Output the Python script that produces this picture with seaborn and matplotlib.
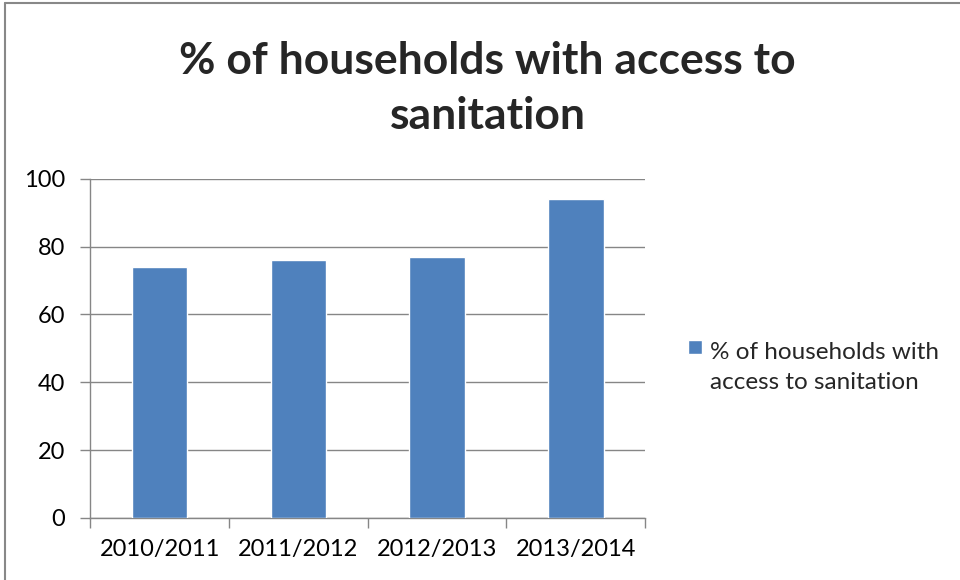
import matplotlib
matplotlib.use("Agg")
import matplotlib.pyplot as plt
import seaborn as sns
import pandas as pd
from matplotlib.patches import Patch, Rectangle
from matplotlib.lines import Line2D
from matplotlib.legend_handler import HandlerPatch

# data
years = ["2010/2011", "2011/2012", "2012/2013", "2013/2014"]
pct_sanitation = [74, 76, 77, 94]
series_name = "% of households with access to sanitation"
y_ticks = [0, 20, 40, 60, 80, 100]

BAR = "#4F81BD"
GREY = "#868686"

sns.set_theme(style="white")
plt.rcParams["font.family"] = ["Lato", "DejaVu Sans"]

df = pd.DataFrame({"year": years, "pct": pct_sanitation})

fig = plt.figure(figsize=(9.6, 5.8), dpi=100)
ax = fig.add_axes([0.094, 0.107, 0.578, 0.585])

sns.barplot(data=df, x="year", y="pct", color=BAR, width=0.4,
            saturation=1, ax=ax, zorder=3)

ax.set_xlim(-0.5, len(years) - 0.5)
ax.set_ylim(0, 100)
ax.set_yticks(y_ticks)
ax.yaxis.grid(True, color=GREY, lw=1)
ax.set_axisbelow(True)
ax.set_xlabel("")
ax.set_ylabel("")

for side in ["top", "right"]:
    ax.spines[side].set_visible(False)
for side in ["left", "bottom"]:
    ax.spines[side].set_color(GREY)
    ax.spines[side].set_linewidth(1)

# excel style ticks between categories
ax.set_xticks([i - 0.5 for i in range(len(years) + 1)], minor=True)
ax.tick_params(axis="x", which="minor", bottom=True, length=7, width=1, color=GREY)
ax.tick_params(axis="x", which="major", length=0, pad=15, labelsize=17, labelcolor="black")
ax.tick_params(axis="y", left=True, length=7, width=1, color=GREY, pad=11,
               labelsize=17, labelcolor="black")


# legend marker sits next to the first line of the wrapped label
def top_square(legend, orig_handle, xdescent, ydescent, width, height, fontsize):
    return Rectangle((-xdescent, -ydescent + 0.85 * fontsize), width, height)


legend_label = "% of households with\naccess to sanitation"
fig.legend(handles=[Patch(facecolor=BAR, label=legend_label)],
           handler_map={Patch: HandlerPatch(patch_func=top_square)},
           loc="center left", bbox_to_anchor=(0.717, 0.366), frameon=False,
           fontsize=17.5, handlelength=0.55, handleheight=0.55, handletextpad=0.35,
           borderpad=0, borderaxespad=0, labelspacing=0)
for t in fig.legends[0].get_texts():
    t.set_linespacing(1.5)

fig.text(0.508, 0.848, "% of households with access to\nsanitation", ha="center",
         va="center", fontsize=32, fontweight="bold", linespacing=1.45)

# chart area border (left and top visible)
fig.add_artist(Line2D([5 / 960, 5 / 960], [0, 1 - 3 / 580], transform=fig.transFigure,
                      color="#888888", lw=1.5))
fig.add_artist(Line2D([5 / 960, 1], [1 - 3 / 580, 1 - 3 / 580], transform=fig.transFigure,
                      color="#888888", lw=1.5))

fig.savefig("out.png", dpi=100)
